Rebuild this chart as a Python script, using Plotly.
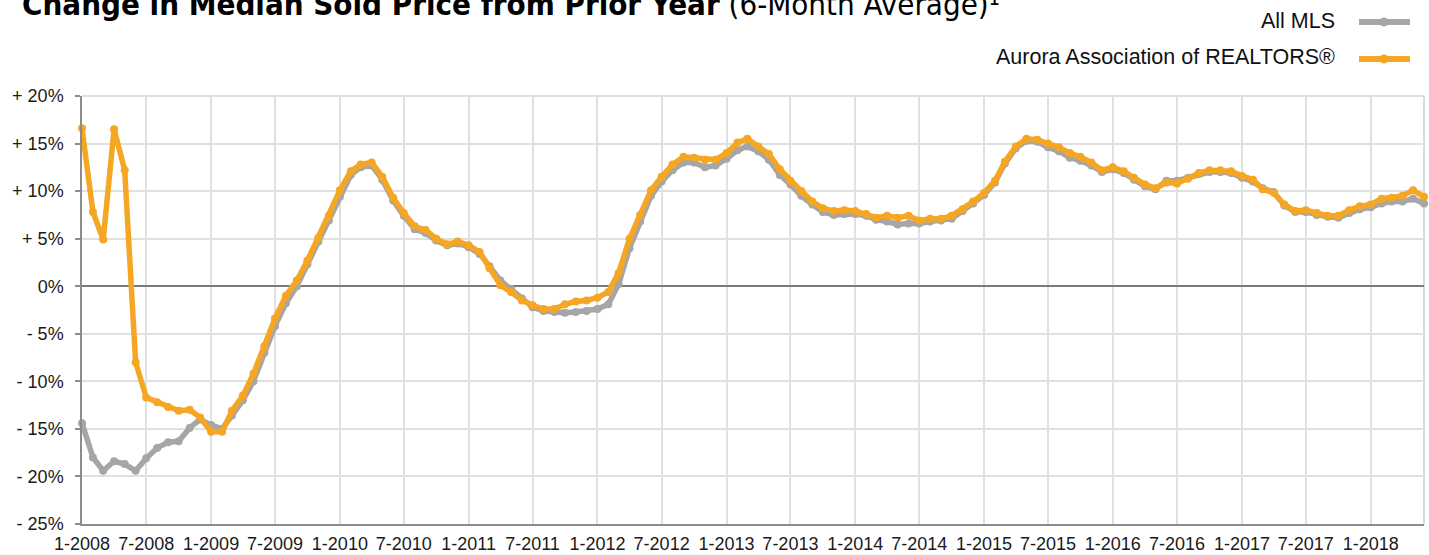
import pandas as pd
import plotly.graph_objects as go

months = pd.date_range("2008-01-01", "2018-06-01", freq="MS")

aurora = [16.6, 7.8, 4.9, 16.5, 12.2, -8.0, -11.7, -12.2, -12.7, -13.1, -13.0, -13.8,
          -15.3, -15.3, -13.1, -11.5, -9.2, -6.3, -3.4, -1.0, 0.6, 2.7, 5.1, 7.4,
          10.1, 12.1, 12.8, 13.0, 11.5, 9.3, 7.7, 6.3, 5.9, 5.0, 4.4, 4.7,
          4.3, 3.6, 1.9, 0.1, -0.6, -1.5, -2.0, -2.4, -2.4, -1.9, -1.6, -1.5,
          -1.2, -0.6, 1.4, 5.0, 7.5, 10.1, 11.5, 12.8, 13.6, 13.5, 13.3, 13.3,
          14.0, 15.1, 15.5, 14.7, 13.9, 12.3, 11.1, 10.0, 8.9, 8.2, 7.9, 8.0,
          7.9, 7.6, 7.2, 7.4, 7.2, 7.4, 6.9, 7.1, 7.1, 7.4, 8.1, 8.9,
          9.8, 11.1, 13.1, 14.7, 15.5, 15.4, 15.0, 14.6, 14.0, 13.6, 13.0, 12.2,
          12.5, 12.1, 11.4, 10.7, 10.3, 10.9, 10.8, 11.3, 11.9, 12.2, 12.2, 12.1,
          11.6, 11.2, 10.2, 9.8, 8.6, 7.9, 8.0, 7.7, 7.4, 7.4, 8.0, 8.4,
          8.6, 9.2, 9.3, 9.5, 10.1, 9.4]

all_mls = [-14.4, -18.0, -19.4, -18.4, -18.7, -19.4, -18.1, -17.0, -16.4, -16.3, -14.9, -14.0,
           -14.6, -15.0, -13.6, -12.0, -10.0, -7.0, -4.2, -1.8, 0.0, 2.3, 4.7, 6.9,
           9.4, 11.7, 12.5, 12.7, 11.2, 9.0, 7.4, 6.0, 5.6, 4.8, 4.3, 4.5,
           4.1, 3.4, 2.1, 0.6, -0.3, -1.3, -2.2, -2.6, -2.7, -2.8, -2.7, -2.6,
           -2.4, -1.9, 0.2, 4.0, 6.8, 9.5, 11.0, 12.2, 13.0, 13.0, 12.5, 12.7,
           13.4, 14.3, 14.7, 14.2, 13.3, 11.7, 10.7, 9.5, 8.6, 7.8, 7.5, 7.6,
           7.6, 7.4, 7.0, 6.8, 6.5, 6.6, 6.6, 6.8, 6.9, 7.1, 7.9, 8.7,
           9.6, 10.9, 12.9, 14.5, 15.3, 15.2, 14.6, 14.2, 13.5, 13.2, 12.7, 12.0,
           12.3, 11.9, 11.2, 10.5, 10.2, 11.1, 11.1, 11.4, 11.8, 12.0, 12.0, 11.9,
           11.4, 11.0, 10.3, 9.9, 8.5, 7.8, 7.8, 7.5, 7.3, 7.2, 7.7, 8.1,
           8.3, 8.7, 8.9, 8.9, 9.2, 8.7]

x_tick_dates = pd.date_range("2008-01-01", "2018-01-01", freq="6MS")
x_tick_labels = [f"{d.month}-{d.year}" for d in x_tick_dates]
y_tick_vals = [20, 15, 10, 5, 0, -5, -10, -15, -20, -25]
y_tick_labels = ["+ 20%", "+ 15%", "+ 10%", "+ 5%", "0%", "- 5%", "- 10%", "- 15%", "- 20%", "- 25%"]

series_names = ["All MLS", "Aurora Association of REALTORS®"]
GRAY = "#A6A6A6"
ORANGE = "#F5A623"

FONT = "Liberation Sans, Arial, Helvetica, sans-serif"
TITLE_FONT = "Liberation Sans Narrow, Arial Narrow, DejaVu Sans Condensed, sans-serif"

fig = go.Figure()
fig.add_trace(go.Scatter(x=months, y=all_mls, mode="lines+markers", name=series_names[0],
                         line=dict(color=GRAY, width=5.5), marker=dict(color=GRAY, size=8),
                         cliponaxis=False, showlegend=False))
fig.add_trace(go.Scatter(x=months, y=aurora, mode="lines+markers", name=series_names[1],
                         line=dict(color=ORANGE, width=5.5), marker=dict(color=ORANGE, size=8),
                         cliponaxis=False, showlegend=False))

W, H = 1429, 555
L, R, T, B = 82, 5, 96, 31
pw, ph = W - L - R, H - T - B


def px_x(px):
    return (px - L) / pw


def px_y(py):
    return (H - B - py) / ph


annotations = [
    dict(text="<b>Change in Median Sold Price from Prior Year</b> (6-Month Average)¹",
         xref="paper", yref="paper", x=px_x(20), y=px_y(24), xanchor="left", yanchor="bottom",
         showarrow=False, font=dict(family=TITLE_FONT, size=31, color="#000000")),
    dict(text=series_names[0], xref="paper", yref="paper", x=px_x(1337), y=px_y(21),
         xanchor="right", yanchor="middle", showarrow=False,
         font=dict(family=FONT, size=21.5, color="#111111")),
    dict(text=series_names[1], xref="paper", yref="paper", x=px_x(1337), y=px_y(57),
         xanchor="right", yanchor="middle", showarrow=False,
         font=dict(family=FONT, size=21.5, color="#111111")),
]

shapes = [
    dict(type="line", xref="paper", yref="paper", x0=1, x1=1, y0=0, y1=1,
         line=dict(color="#CFCFCF", width=1.5), layer="below"),
    dict(type="line", xref="paper", yref="paper", x0=0, x1=1, y0=1, y1=1,
         line=dict(color="#D5D5D5", width=1.5), layer="below"),
]
for color, py in [(GRAY, 22), (ORANGE, 59)]:
    shapes.append(dict(type="line", xref="paper", yref="paper", x0=px_x(1359), x1=px_x(1410),
                       y0=px_y(py), y1=px_y(py), line=dict(color=color, width=6)))
    shapes.append(dict(type="circle", xref="paper", yref="paper", xsizemode="pixel", ysizemode="pixel",
                       xanchor=px_x(1384), yanchor=px_y(py), x0=-4.5, x1=4.5, y0=-4.5, y1=4.5,
                       fillcolor=color, line=dict(width=0)))

fig.update_layout(
    width=W, height=H,
    margin=dict(l=L, r=R, t=T, b=B, pad=0),
    paper_bgcolor="white", plot_bgcolor="white",
    font=dict(family=FONT, size=18, color="#1a1a1a"),
    annotations=annotations,
    shapes=shapes,
    showlegend=False,
)
fig.update_xaxes(
    type="date", range=[months[0], months[-1]],
    tickvals=x_tick_dates, ticktext=x_tick_labels,
    showgrid=True, gridcolor="#E0E0E0", gridwidth=1.5,
    showline=True, linecolor="#8C8C8C", linewidth=1.5,
    ticks="", tickfont=dict(size=18, color="#1a1a1a"), ticklabelstandoff=3,
    zeroline=False, automargin=False,
)
fig.update_yaxes(
    range=[-25, 20], tickvals=y_tick_vals, ticktext=y_tick_labels,
    showgrid=True, gridcolor="#E0E0E0", gridwidth=1.5,
    showline=True, linecolor="#8C8C8C", linewidth=1.5,
    ticks="outside", ticklen=5, tickcolor="#8C8C8C", tickwidth=1.5,
    tickfont=dict(size=18, color="#1a1a1a"), ticklabelstandoff=8,
    zeroline=True, zerolinecolor="#7A7A7A", zerolinewidth=1.5, automargin=False,
)

fig.write_html("out.html", config={"displayModeBar": False},
               post_script="document.body.style.margin='0';document.body.style.overflow='hidden';")
